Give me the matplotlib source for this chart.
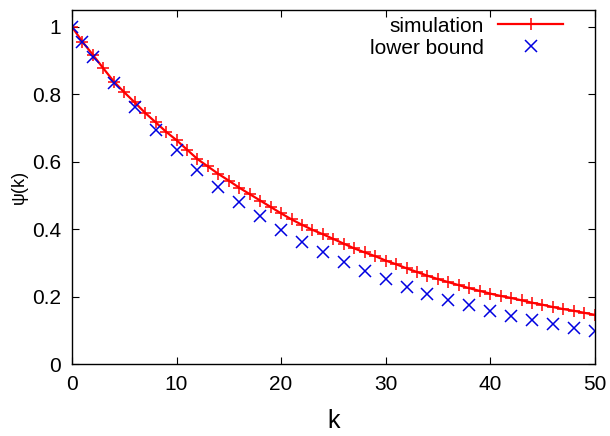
import numpy as np
import matplotlib
matplotlib.use("Agg")
import matplotlib.pyplot as plt

# ---------------------------
# Dados
# ---------------------------
k_sim = list(range(0, 51))
psi_sim = [1.000, 0.956, 0.917, 0.877, 0.838, 0.806, 0.776, 0.745, 0.717, 0.689,
           0.664, 0.636, 0.608, 0.586, 0.564, 0.544, 0.523, 0.504, 0.485, 0.466,
           0.447, 0.429, 0.413, 0.398, 0.385, 0.371, 0.357, 0.343, 0.331, 0.320,
           0.307, 0.296, 0.284, 0.273, 0.262, 0.252, 0.243, 0.234, 0.225, 0.217,
           0.209, 0.202, 0.196, 0.189, 0.182, 0.176, 0.169, 0.163, 0.158, 0.152,
           0.146]

k_lb = [0, 1, 2, 4, 6, 8, 10, 12, 14, 16, 18, 20, 22, 24, 26, 28, 30, 32, 34,
        36, 38, 40, 42, 44, 46, 48, 50]
psi_lb = [1.000, 0.955, 0.910, 0.835, 0.762, 0.695, 0.634, 0.577, 0.526, 0.480,
          0.438, 0.399, 0.363, 0.331, 0.304, 0.277, 0.252, 0.230, 0.209, 0.190,
          0.174, 0.158, 0.144, 0.131, 0.119, 0.108, 0.099]

x_ticks = [0, 10, 20, 30, 40, 50]
y_ticks = [0, 0.2, 0.4, 0.6, 0.8, 1]
y_tick_labels = ["0", "0.2", "0.4", "0.6", "0.8", "1"]

plt.rcParams["font.family"] = ["Liberation Sans", "DejaVu Sans"]

fig = plt.figure(figsize=(6.1, 4.36), dpi=100)
ax = fig.add_axes([0.118, 0.165, 0.857, 0.812])

ax.plot(k_sim, psi_sim, color="#ff0000", lw=1.6, marker="+", ms=9, mew=1.1,
        label="simulation")
ax.plot(k_lb, psi_lb, ls="none", color="#0000e0", marker="x", ms=8, mew=1.1,
        label="lower bound")

ax.set_xlim(0, 50)
ax.set_ylim(0, 1.05)
ax.set_xticks(x_ticks)
ax.set_yticks(y_ticks)
ax.set_yticklabels(y_tick_labels)
ax.tick_params(direction="in", top=True, right=True, length=5, labelsize=15, pad=8)
for s in ax.spines.values():
    s.set_linewidth(1.0)

ax.set_xlabel("k", fontsize=18, labelpad=11)
ax.set_ylabel("\u03c8(k)", fontsize=13, labelpad=3)

ax.legend(loc="upper right", frameon=False, markerfirst=False, fontsize=15,
          handlelength=3.1, handletextpad=0.7, borderaxespad=0.0,
          labelspacing=0.15, bbox_to_anchor=(0.955, 1.005))

fig.savefig("out.png", dpi=100)
plt.close(fig)
